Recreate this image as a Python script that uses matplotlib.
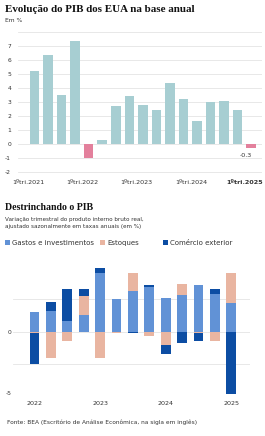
import numpy as np
import matplotlib
matplotlib.use("Agg")
import matplotlib.pyplot as plt

# --- data: annualised quarterly GDP growth (%), Q1 2021 .. Q1 2025
growth = [5.2, 6.4, 3.5, 7.4, -1.0, 0.3, 2.7, 3.4, 2.8, 2.4, 4.4, 3.2, 1.6, 3.0, 3.1, 2.4, -0.3]
growth_ticks = [0, 4, 8, 12, 16]
growth_ticklabels = ["1ºtri.2021", "1ºtri.2022", "1ºtri.2023", "1ºtri.2024", "1ºtri.2025"]

# --- contributions (p.p.), Q1 2022 .. Q1 2025
gastos = [1.5, 1.6, 0.8, 1.25, 4.5, 2.5, 3.1, 3.4, 2.6, 2.85, 3.6, 2.9, 2.2]
estoques = [-0.1, -2.0, -0.7, 1.5, -2.05, -0.1, 1.4, -0.35, -1.0, 0.85, -0.1, -0.75, 2.3]
comercio = [-2.4, 0.65, 2.5, 0.5, 0.4, 0.0, -0.1, 0.2, -0.75, -0.9, -0.6, 0.35, -4.8]
contrib_ticks = [0, 4, 8, 12]
contrib_ticklabels = ["2022", "2023", "2024", "2025"]

TEAL = "#a7ced2"
PINK = "#e3809c"
BLUE = "#6192d6"
SALMON = "#e9b5a1"
NAVY = "#0c4da3"
GRID = "#e4e4e4"
TXT = "#333333"
serif = "Liberation Serif"

W, H = 265, 436
fig = plt.figure(figsize=(W / 100, H / 100), dpi=100)
fig.patch.set_facecolor("white")


def box(left, top, right, bottom):
    return [left / W, 1 - bottom / H, (right - left) / W, (bottom - top) / H]


# ---------------- top chart ----------------
fig.text(5 / W, 1 - 10 / H, "Evolução do PIB dos EUA na base anual", fontsize=7.9,
         fontweight="bold", family=serif, va="center", ha="left", color="#111111")
fig.text(5 / W, 1 - 21 / H, "Em %", fontsize=4.3, va="center", ha="left", color=TXT)

ax1 = fig.add_axes(box(18, 29.7, 262, 175.7))
x1 = np.arange(len(growth))
cols = [TEAL if v >= 0 else PINK for v in growth]
ax1.bar(x1, growth, width=0.7, color=cols, zorder=2)
ax1.set_xlim(-1.22, 16.8)
ax1.set_ylim(-2.3, 8.2)
ax1.set_yticks(range(-2, 9))
ax1.set_yticklabels([str(v) if v < 8 else "" for v in range(-2, 9)])
ax1.grid(axis="y", color=GRID, lw=0.6, zorder=0)
# labels sit a little left of their bar in the original
ax1.set_xticks(np.array(growth_ticks) - 0.45)
ax1.set_xticklabels(growth_ticklabels)
for lbl in ax1.get_xticklabels()[-1:]:
    lbl.set_fontweight("bold")
    lbl.set_color("#111111")
ax1.tick_params(axis="y", length=0, labelsize=4.3, pad=5, colors=TXT)
ax1.tick_params(axis="x", length=0, labelsize=4.6, pad=3, colors=TXT)
for s in ax1.spines.values():
    s.set_visible(False)
ax1.text(x1[-1] - 0.4, growth[-1] - 0.35, f"{growth[-1]:.1f}",
         fontsize=4.6, ha="center", va="top", color=TXT)

# ---------------- bottom chart ----------------
fig.text(5 / W, 1 - 207 / H, "Destrinchando o PIB", fontsize=7.1, fontweight="bold",
         family=serif, va="center", ha="left", color="#111111")
fig.text(5 / W, 1 - 219 / H, "Variação trimestral do produto interno bruto real,",
         fontsize=4.1, va="center", ha="left", color=TXT)
fig.text(5 / W, 1 - 226 / H, "ajustado sazonalmente em taxas anuais (em %)",
         fontsize=4.1, va="center", ha="left", color=TXT)

ax2 = fig.add_axes(box(13, 251, 250, 399.3))
x2 = np.arange(len(gastos))
pos = np.zeros(len(x2))
neg = np.zeros(len(x2))
handles = []
for vals, col, name in [(gastos, BLUE, "Gastos e investimentos"),
                        (estoques, SALMON, "Estoques"),
                        (comercio, NAVY, "Comércio exterior")]:
    v = np.array(vals)
    bottom = np.where(v >= 0, pos, neg)
    b = ax2.bar(x2, v, bottom=bottom, width=0.6, color=col, zorder=2, label=name)
    pos = pos + np.clip(v, 0, None)
    neg = neg + np.clip(v, None, 0)
    handles.append(b)

for g in (2.5, 0, -2.5):
    ax2.axhline(g, color=GRID, lw=0.6, zorder=0)
ax2.set_xlim(-1.31, 13.14)
ax2.set_ylim(-5.2, 6.2)
ax2.set_yticks([0, -4.7])
ax2.set_yticklabels(["0", "-5"])
ax2.set_xticks(contrib_ticks)
ax2.set_xticklabels(contrib_ticklabels)
ax2.tick_params(axis="y", length=0, labelsize=4.3, pad=1, colors=TXT)
ax2.tick_params(axis="x", length=0, labelsize=4.6, pad=1, colors=TXT)
for s in ax2.spines.values():
    s.set_visible(False)

# legend entries sit in fixed columns
for h, x0 in zip(handles, [5, 100, 163]):
    fig.legend(handles=[h], loc="center left", bbox_to_anchor=(x0 / W, 1 - 242.7 / H),
               frameon=False, fontsize=5.0, handlelength=0.75, handleheight=0.75,
               handletextpad=0.25, borderaxespad=0, borderpad=0, labelcolor=TXT)

fig.text(7 / W, 1 - 422.7 / H,
         "Fonte: BEA (Escritório de Análise Econômica, na sigla em inglês)",
         fontsize=4.2, va="center", ha="left", color=TXT)

fig.savefig("out.png", dpi=100)
